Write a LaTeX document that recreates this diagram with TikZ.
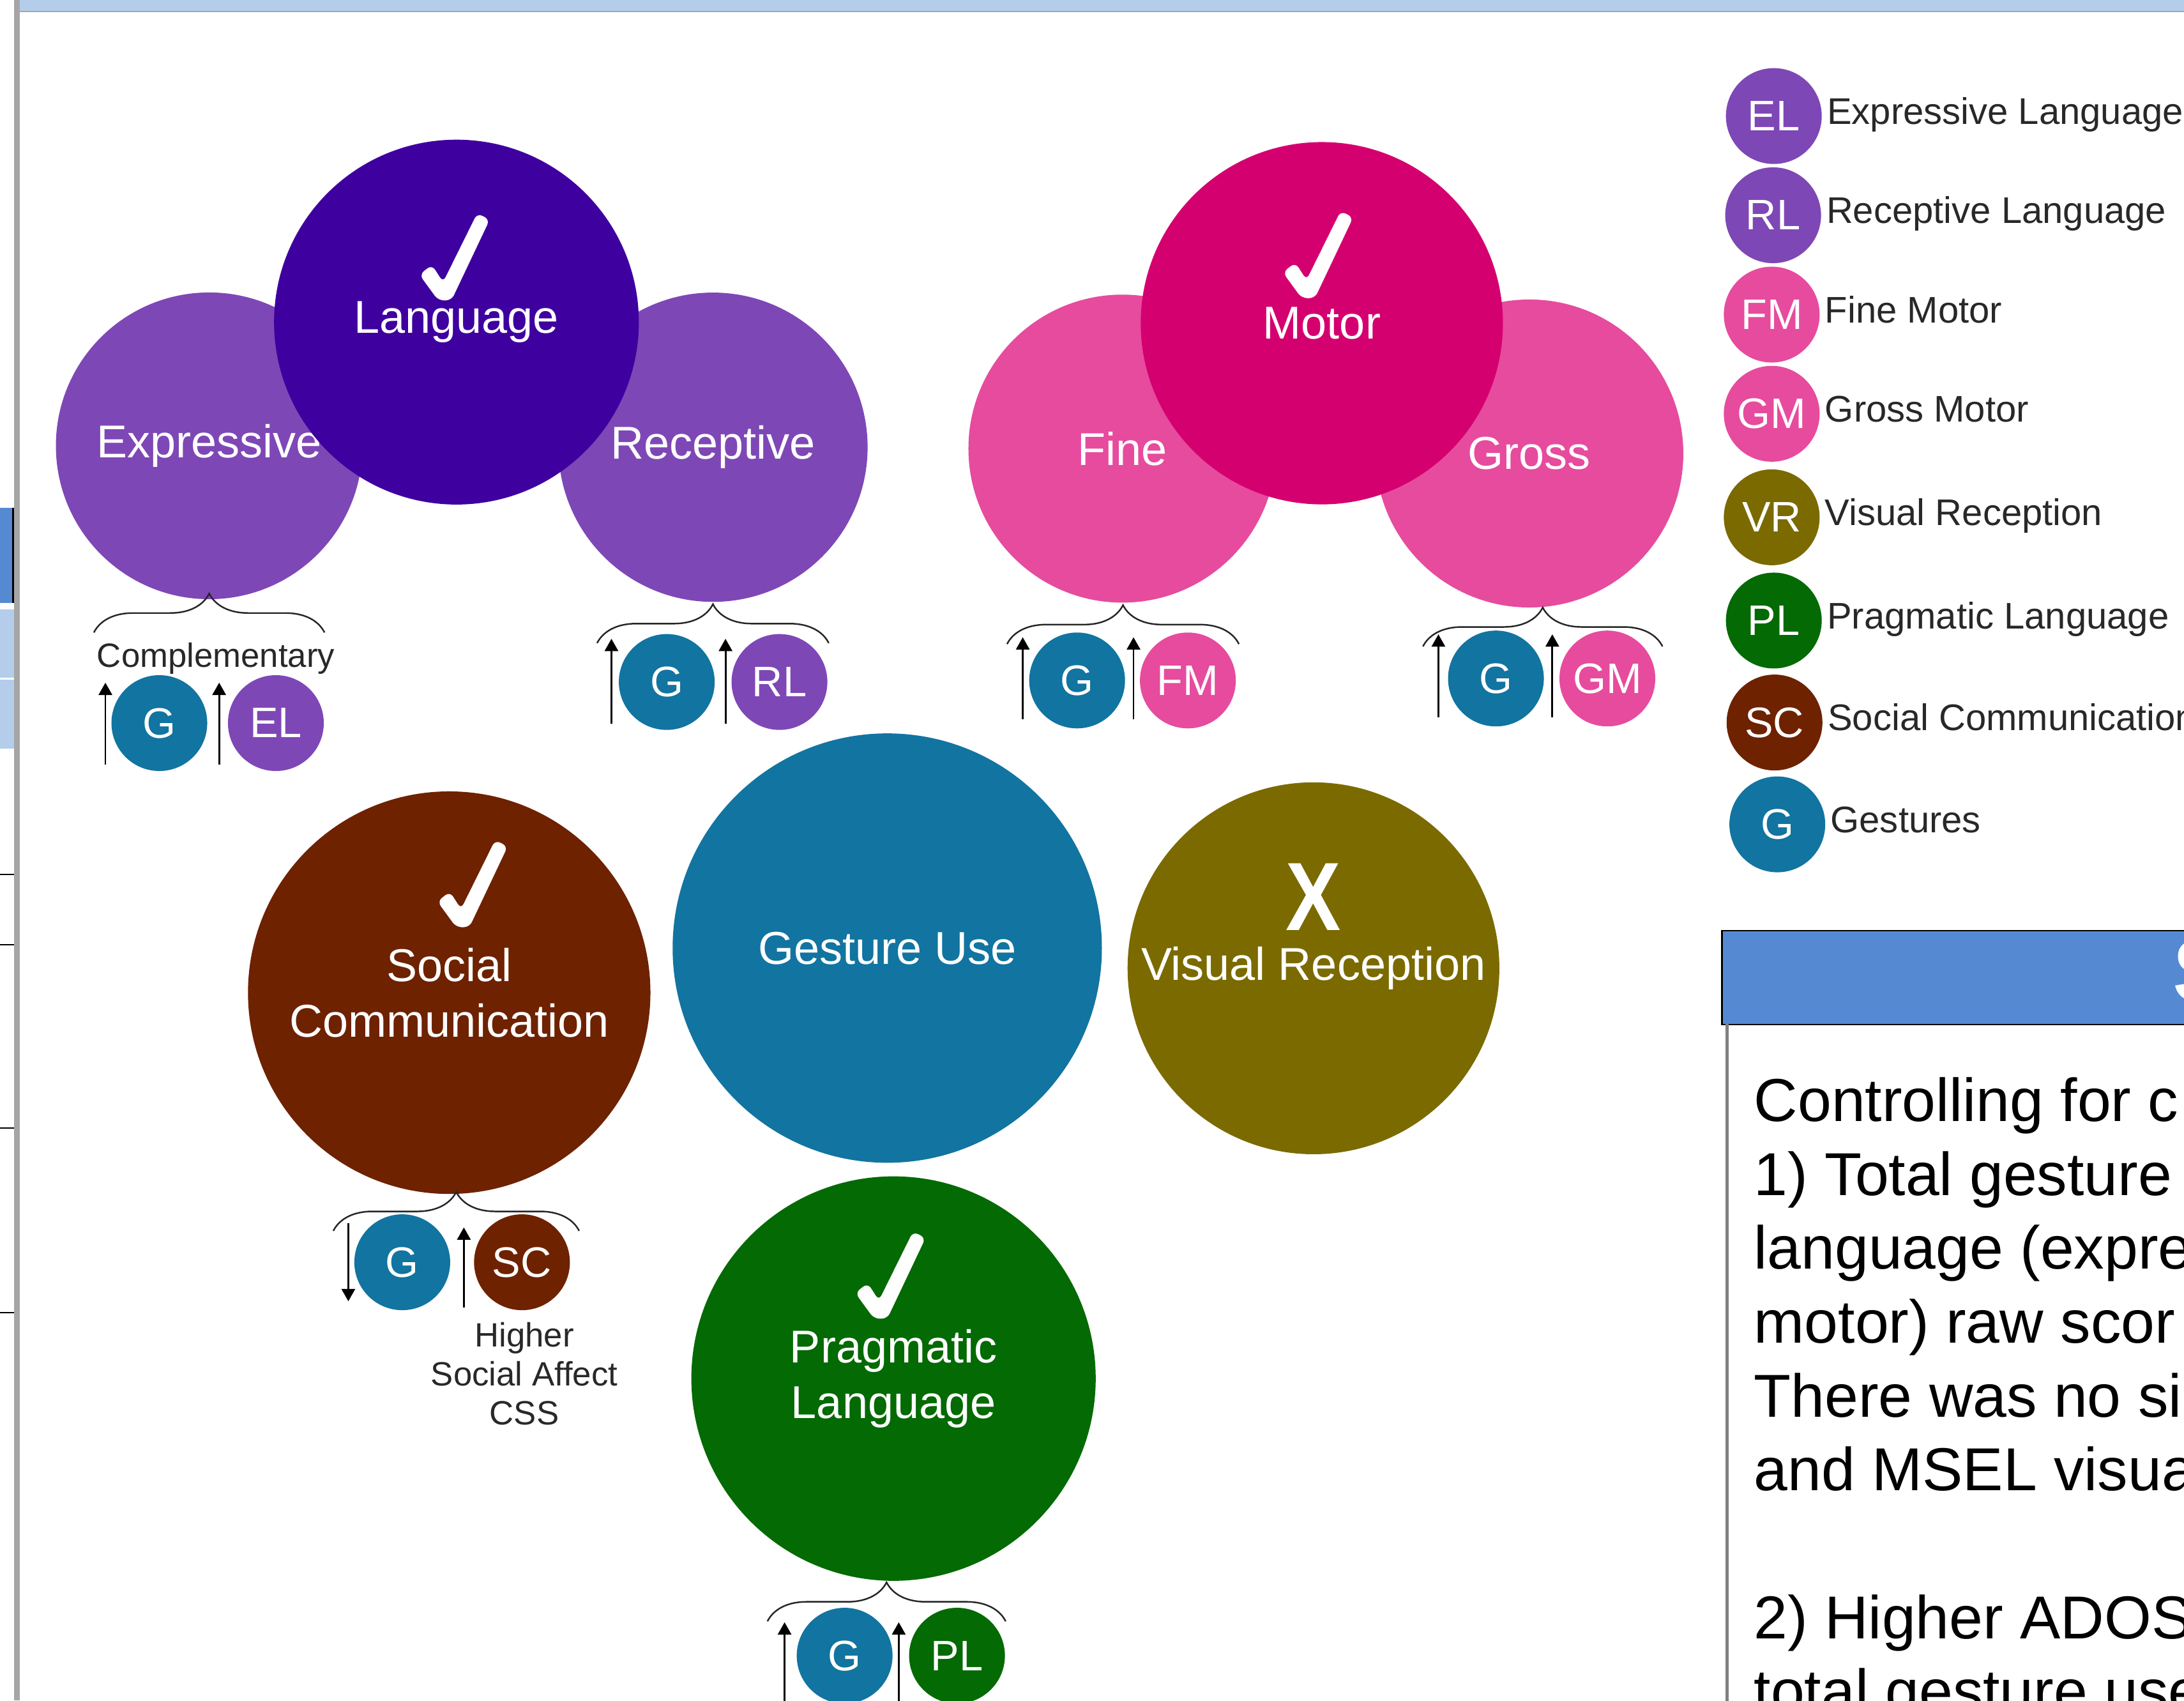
\documentclass[tikz,border=0pt]{standalone}
\usepackage{fontspec}
\setmainfont{Liberation Sans}
\usepackage{tikz}
\usetikzlibrary{arrows.meta,positioning,calc,decorations.pathreplacing}
\definecolor{bandBlue}{RGB}{180,205,235}
\definecolor{hdrBlue}{RGB}{85,138,211}
\definecolor{barGray}{RGB}{166,166,166}
\definecolor{expPurple}{RGB}{126,71,182}
\definecolor{langIndigo}{RGB}{63,0,160}
\definecolor{finePink}{RGB}{230,75,158}
\definecolor{motorPink}{RGB}{213,0,111}
\definecolor{socBrown}{RGB}{110,34,0}
\definecolor{gestBlue}{RGB}{18,116,160}
\definecolor{visOlive}{RGB}{123,106,0}
\definecolor{pragGreen}{RGB}{4,106,4}
\definecolor{inkGray}{RGB}{40,40,40}
\tikzset{
  areacircle/.style={circle, draw=none, inner sep=0pt, align=center, text=white,
                     font=\fontsize{20.5}{24.8}\selectfont},
  badge/.style={circle, draw=none, minimum size=1.5cm, inner sep=0pt, text=white,
                font=\fontsize{19}{19}\selectfont},
  legtext/.style={inner sep=2pt, text=inkGray, text height=0.72em, text depth=0pt,
                  font=\fontsize{16.5}{16.5}\selectfont},
  remark/.style={inner sep=0pt, align=center, text=inkGray, font=\fontsize{15}{17.4}\selectfont},
  xmark/.style={inner sep=0pt, text=white, text depth=0pt, font=\bfseries\fontsize{40}{40}\selectfont},
  uparrow/.style={-{Triangle[length=5.5pt,width=6pt]}, line width=0.8pt},
  curly/.style={decorate, decoration={brace, amplitude=0.61cm}, line width=0.7pt, draw=black!85},
  tickmark/.pic={\fill[white, rounded corners=2.5pt] (-17.5,-17.5) -- (-8.5,-24.5) -- (-0.5,-12)
                 -- (24,-61.5) -- (33,-57) -- (5.5,1) -- (-4,1) -- cycle;}
}

\begin{document}
\begin{tikzpicture}[x=0.021811cm, y=-0.021811cm, node distance=0.24cm]
\useasboundingbox (0,0) rectangle (1568,1220.5);
\clip (0,0) rectangle (1568,1220.5);
% poster frame
\fill[bandBlue] (14.2,0) rectangle (1568,7.7);
\fill[barGray] (14.2,7.7) rectangle (1568,8.8);
\fill[barGray] (10,0) rectangle (14.2,1220.5);
\fill[hdrBlue] (0,364.3) rectangle (9.8,432.9);
\draw[line width=0.8pt] (9.5,364.3) -- (9.5,432.9);
\fill[bandBlue] (0,437.5) rectangle (10,486.6);
\fill[bandBlue] (0,488) rectangle (10,537.2);
\draw[line width=0.6pt] (0,627.5) -- (10,627.5) (0,678) -- (10,678)
  (0,809.6) -- (10,809.6) (0,942) -- (10,942);

% language
\node[areacircle, fill=expPurple, minimum size=4.80cm] (expr) at (150.2,320) {Expressive};
\node[areacircle, fill=expPurple, minimum size=4.84cm] (recep) at (511.9,321) {Receptive};
\node[areacircle, fill=langIndigo, minimum size=5.71cm] (lang) at (327.7,231.2) {Language};
\pic at (318.6,214.6) {tickmark};

% motor
\node[areacircle, fill=finePink, minimum size=4.82cm] (fine) at (805.8,322) {Fine};
\node[areacircle, fill=finePink, minimum size=4.82cm] (gross) at (1098,325.5) {Gross};
\node[areacircle, fill=motorPink, minimum size=5.67cm] (motor) at (949,232) {Motor};
\pic at (938.5,213) {tickmark};

% middle row
\node[areacircle, fill=socBrown, minimum size=6.30cm] (soc) at (322.5,712.5) {Social\\Communication};
\pic at (331.5,664.5) {tickmark};
\node[areacircle, fill=gestBlue, minimum size=6.72cm] (gest) at (637,680.5) {Gesture Use};
\node[areacircle, fill=visOlive, minimum size=5.82cm] (vis) at (943,695) {Visual Reception};
\node[xmark] (visX) at (943,644) {\scalebox{0.92}[1.08]{X}};
\node[areacircle, fill=pragGreen, minimum size=6.33cm] (prag) at (641.5,989.5) {Pragmatic\\Language};
\pic at (631.5,945.5) {tickmark};

% expressive
\draw[curly] (67.4,454) -- (233,454);
\node[remark, anchor=base] (compl) at (155,479) {Complementary};
\node[badge, fill=gestBlue] (gE) at (114.4,519) {G};
\node[badge, fill=expPurple, right=0.31cm of gE] (elE) {EL};
\draw[uparrow] ($(gE.west)+(-4,30)$) -- ($(gE.west)+(-4,-29)$);
\draw[uparrow] ($(elE.west)+(-6,30)$) -- ($(elE.west)+(-6,-29)$);

% receptive
\draw[curly] (428.7,461.6) -- (595,461.6);
\node[badge, fill=gestBlue] (gR) at (478.7,489.5) {G};
\node[badge, fill=expPurple, right=0.25cm of gR] (rlR) {RL};
\draw[uparrow] ($(gR.west)+(-5,30)$) -- ($(gR.west)+(-5,-31)$);
\draw[uparrow] ($(rlR.west)+(-4,30)$) -- ($(rlR.west)+(-4,-31)$);

% fine
\draw[curly] (723,462.3) -- (889.5,462.3);
\node[badge, fill=gestBlue] (gF) at (773.3,488.4) {G};
\node[badge, fill=finePink, right=0.22cm of gF] (fmF) {FM};
\draw[uparrow] ($(gF.west)+(-4.3,28)$) -- ($(gF.west)+(-4.3,-31)$);
\draw[uparrow] ($(fmF.west)+(-4.3,28)$) -- ($(fmF.west)+(-4.3,-31)$);

% gross
\draw[curly] (1021.6,464) -- (1193.6,464);
\node[badge, fill=gestBlue] (gG) at (1074,487) {G};
\node[badge, fill=finePink, right=0.23cm of gG] (gmG) {GM};
\draw[uparrow] ($(gG.west)+(-6.6,28)$) -- ($(gG.west)+(-6.6,-31.7)$);
\draw[uparrow] ($(gmG.west)+(-4.8,28)$) -- ($(gmG.west)+(-4.8,-31.7)$);

% social communication
\draw[curly] (239.3,883.5) -- (415.8,883.5);
\node[badge, fill=gestBlue] (gS) at (288.8,906) {G};
\node[badge, fill=socBrown, right=0.36cm of gS] (scS) {SC};
\draw[uparrow] ($(gS.west)+(-4,-28)$) -- ($(gS.west)+(-4,28)$);
\draw[uparrow] ($(scS.west)+(-7,32.5)$) -- ($(scS.west)+(-7,-25)$);
\node[remark] (css) at (376.4,986) {Higher\\Social Affect\\CSS};

% pragmatic
\draw[curly] (551,1163.7) -- (722,1163.7);
\node[badge, fill=gestBlue] (gP) at (606.4,1188.4) {G};
\node[badge, fill=pragGreen, right=0.245cm of gP] (plP) {PL};
\draw[uparrow] ($(gP.west)+(-8.4,40)$) -- ($(gP.west)+(-8.4,-24)$);
\draw[uparrow] ($(plP.west)+(-7.1,40)$) -- ($(plP.west)+(-7.1,-24)$);

% legend
\node[badge, fill=expPurple] (lEL) at (1273.5,83.3) {EL};
\node[legtext, right=0pt of lEL] (tEL) {Expressive Language};
\node[badge, fill=expPurple] (lRL) at (1273,154.5) {RL};
\node[legtext, right=0pt of lRL] (tRL) {Receptive Language};
\node[badge, fill=finePink] (lFM) at (1272,225.8) {FM};
\node[legtext, right=0pt of lFM] (tFM) {Fine Motor};
\node[badge, fill=finePink] (lGM) at (1272,297) {GM};
\node[legtext, right=0pt of lGM] (tGM) {Gross Motor};
\node[badge, fill=visOlive] (lVR) at (1272,371.3) {VR};
\node[legtext, right=0pt of lVR] (tVR) {Visual Reception};
\node[badge, fill=pragGreen] (lPL) at (1273.5,445.4) {PL};
\node[legtext, right=0pt of lPL] (tPL) {Pragmatic Language};
\node[badge, fill=socBrown] (lSC) at (1274,518.6) {SC};
\node[legtext, right=0pt of lSC] (tSC) {Social Communication};
\node[badge, fill=gestBlue] (lG) at (1276,591.7) {G};
\node[legtext, right=0pt of lG] (tG) {Gestures};

% results panel
\node[anchor=north west, draw=black, fill=hdrBlue, line width=0.6pt, inner sep=0pt,
      minimum width=8cm, minimum height=1.4635cm] (hdr) at (1235.8,667.7) {};
\node[anchor=west, inner sep=0pt, text=white, font=\bfseries\fontsize{40}{40}\selectfont] (hdrS) at (1559.6,697) {S};
\draw[line width=1.4pt, black!50] (1239.9,734.8) -- (1239.9,1225);
\node[anchor=north west, inner sep=0pt, align=left, font=\fontsize{27}{32.9}\selectfont] (res) at (1259,773)
{Controlling for c\\1) Total gesture\\language (expre\\motor) raw scor\\There was no si\\and MSEL visua\\[32.9pt]2) Higher ADOS\\total gesture use};
\end{tikzpicture}
\end{document}
